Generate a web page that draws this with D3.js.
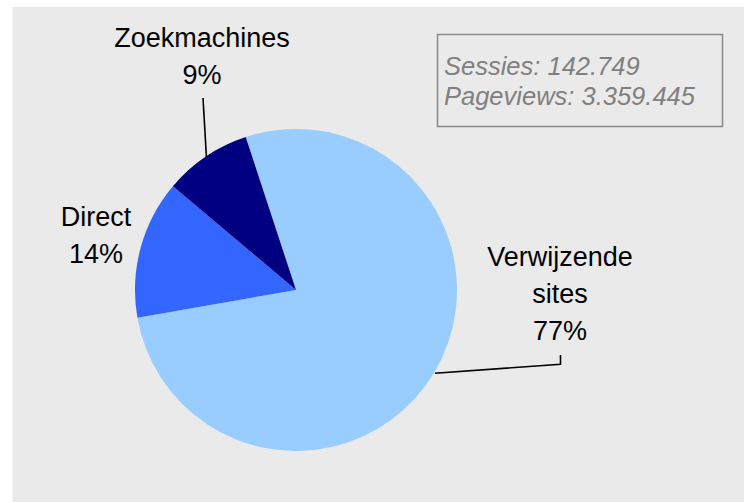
<!DOCTYPE html>
<html>
<head>
<meta charset="utf-8">
<script src="https://cdn.jsdelivr.net/npm/d3@7"></script>
<style>
  html, body { margin: 0; padding: 0; background: #ffffff; }
  svg { display: block; }
  text { font-family: "Liberation Sans", Arial, sans-serif; }
</style>
</head>
<body>
<svg id="chart" width="744" height="503"></svg>
<script>
// ---- data ----
const categories = ["Verwijzende sites", "Direct", "Zoekmachines"];
const shares = [77.3, 13.9, 8.8];
const labelLines = [["Verwijzende", "sites"], ["Direct"], ["Zoekmachines"]];
const colors = ["#99ccff", "#3366ff", "#000080"];
const infoLines = ["Sessies: 142.749", "Pageviews: 3.359.445"];

// ---- layout ----
const W = 744, H = 503;
const cx = 296, cy = 290, R = 161;
const startDeg = -18.2;

const svg = d3.select("#chart");

svg.append("rect")
  .attr("x", 12.5).attr("y", 7)
  .attr("width", W - 12.5).attr("height", H - 8)
  .attr("fill", "#eaeaea");

const pie = d3.pie()
  .sort(null)
  .value(d => d)
  .startAngle(startDeg * Math.PI / 180)
  .endAngle(startDeg * Math.PI / 180 + 2 * Math.PI);

const arcs = pie(shares);
const arc = d3.arc().innerRadius(0).outerRadius(R);

const g = svg.append("g").attr("transform", `translate(${cx},${cy})`);

g.selectAll("path.slice")
  .data(arcs)
  .join("path")
  .attr("class", "slice")
  .attr("d", arc)
  .attr("fill", (d, i) => colors[i]);

// label placement (label centre x, first baseline y) and leader routing
const labelPos = [
  { x: 560, y: 266, leader: "elbow", elbowX: 560.5, elbowTop: 355 },
  { x: 96, y: 226, leader: "none" },
  { x: 202, y: 47, leader: "straight", topX: 203, topY: 98 }
];
const lineH = 37;

function pointAt(d, r) {
  const a = (d.startAngle + d.endAngle) / 2;
  return [cx + r * Math.sin(a), cy - r * Math.cos(a)];
}

arcs.forEach((d, i) => {
  const p = labelPos[i];
  const lines = labelLines[i].concat([Math.round(shares[i]) + "%"]);
  const t = svg.append("text")
    .attr("text-anchor", "middle")
    .attr("font-size", 27)
    .attr("fill", "#000");
  lines.forEach((ln, k) => {
    t.append("tspan").attr("x", p.x).attr("y", p.y + k * lineH).text(ln);
  });

  if (p.leader === "straight") {
    const e = pointAt(d, R - 1);
    svg.append("line")
      .attr("x1", p.topX).attr("y1", p.topY)
      .attr("x2", e[0]).attr("y2", e[1])
      .attr("stroke", "#000").attr("stroke-width", 1.6);
  } else if (p.leader === "elbow") {
    const e = pointAt(d, R + 1);
    const elbowY = e[1] - 9;
    svg.append("path")
      .attr("d", `M${e[0]},${e[1]}L${p.elbowX},${elbowY}L${p.elbowX},${p.elbowTop}`)
      .attr("fill", "none")
      .attr("stroke", "#000").attr("stroke-width", 1.6);
  }
});

// info box
svg.append("rect")
  .attr("x", 437.5).attr("y", 34.5)
  .attr("width", 285).attr("height", 92)
  .attr("fill", "none")
  .attr("stroke", "#888888").attr("stroke-width", 1.5);

const info = svg.append("text")
  .attr("font-size", 25.5)
  .attr("font-style", "italic")
  .attr("fill", "#808080");
infoLines.forEach((ln, k) => {
  info.append("tspan").attr("x", 444).attr("y", 75 + k * 30).text(ln);
});
</script>
</body>
</html>
